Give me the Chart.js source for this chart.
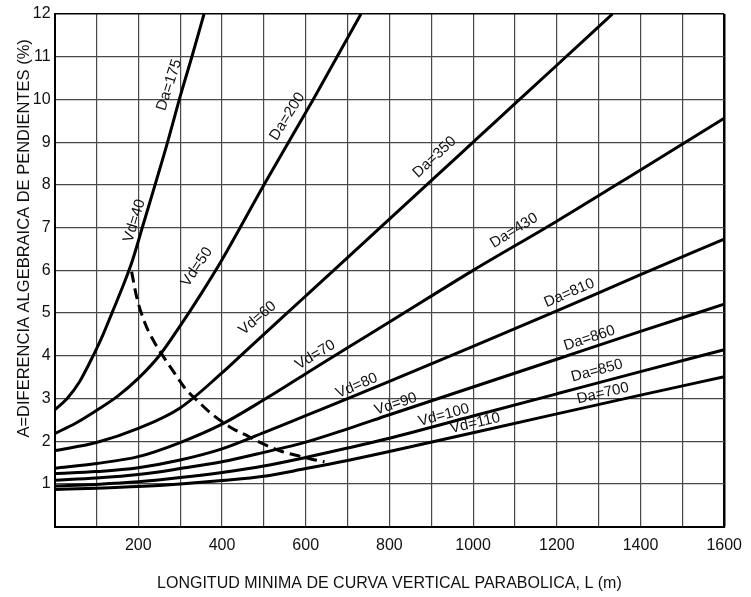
<!DOCTYPE html>
<html lang="es">
<head>
<meta charset="utf-8">
<title>Longitud mínima de curva vertical parabólica</title>
<script src="https://cdn.jsdelivr.net/npm/chart.js@4.4.1/dist/chart.umd.min.js"></script>
<style>
  html, body { margin: 0; padding: 0; background: #fff; }
  #grafico { display: block; }
</style>
</head>
<body>
<canvas id="grafico" width="751" height="597"></canvas>
<script>
// Nombres de las curvas
const velocidades = ["Vd=40", "Vd=50", "Vd=60", "Vd=70", "Vd=80", "Vd=90", "Vd=100", "Vd=110"];
const distancias = ["Da=175", "Da=200", "Da=350", "Da=430", "Da=810", "Da=860", "Da=850", "Da=700"];

// Valores: L (m) y A (%)
const L40 = [0, 30, 60, 92, 115, 137, 160, 185, 211, 240, 270, 298, 328, 357];
const A40 = [2.73, 3.0, 3.4, 4.0, 4.48, 5.0, 5.55, 6.2, 7.05, 8.0, 9.0, 10.0, 11.0, 12.0];

const L50 = [0, 50, 100, 150, 200, 250, 300, 350, 400, 500, 618, 732];
const A50 = [2.18, 2.42, 2.72, 3.05, 3.47, 4.0, 4.7, 5.45, 6.25, 8.0, 10.0, 12.0];

const L60 = [0, 100, 200, 300, 400, 450, 550, 600, 700, 800, 900, 1000, 1100, 1200, 1333];
const A60 = [1.78, 1.97, 2.3, 2.78, 3.6, 4.05, 4.95, 5.4, 6.3, 7.2, 8.1, 9.0, 9.9, 10.8, 12.0];

const Lcomun = [0, 100, 200, 300, 400, 500, 600, 700, 800, 1000, 1200, 1400, 1600];
const A70 = [1.37, 1.48, 1.64, 1.97, 2.4, 2.97, 3.58, 4.19, 4.79, 6.0, 7.15, 8.35, 9.56];
const A80 = [1.24, 1.29, 1.38, 1.56, 1.82, 2.2, 2.6, 3.0, 3.4, 4.22, 5.05, 5.9, 6.73];
const A90 = [1.09, 1.14, 1.22, 1.36, 1.52, 1.74, 1.98, 2.29, 2.62, 3.27, 3.92, 4.57, 5.21];
const A100 = [0.95, 0.99, 1.05, 1.15, 1.27, 1.42, 1.62, 1.84, 2.07, 2.59, 3.11, 3.63, 4.14];
const A110 = [0.87, 0.9, 0.94, 1.0, 1.08, 1.18, 1.36, 1.55, 1.76, 2.2, 2.64, 3.08, 3.51];

// Línea discontinua
const Llimite = [184, 196, 216, 240, 260, 287, 315, 339, 374, 425, 464, 487, 543, 582, 614, 645];
const Alimite = [5.97, 5.38, 4.76, 4.29, 3.98, 3.59, 3.2, 2.97, 2.65, 2.3, 2.11, 1.99, 1.76, 1.66, 1.58, 1.52];

// Etiquetas de los ejes
const ticksX = [200, 400, 600, 800, 1000, 1200, 1400, 1600];
const ticksY = [1, 2, 3, 4, 5, 6, 7, 8, 9, 10, 11, 12];
const tituloX = "LONGITUD MINIMA DE CURVA VERTICAL PARABOLICA, L (m)";
const tituloY = "A=DIFERENCIA ALGEBRAICA DE PENDIENTES (%)";

// Posición de los textos sobre las curvas (en unidades del gráfico)
const etiquetas = [
  { texto: distancias[0], x: 274, y: 10.34, ang: -72 },
  { texto: velocidades[0], x: 191, y: 7.16, ang: -73 },
  { texto: distancias[1], x: 556, y: 9.6, ang: -58 },
  { texto: velocidades[1], x: 340, y: 6.08, ang: -56 },
  { texto: distancias[2], x: 908, y: 8.65, ang: -43 },
  { texto: velocidades[2], x: 485, y: 4.88, ang: -40 },
  { texto: distancias[3], x: 1098, y: 6.93, ang: -32 },
  { texto: velocidades[3], x: 623, y: 4.02, ang: -31 },
  { texto: distancias[4], x: 1230, y: 5.47, ang: -23 },
  { texto: velocidades[4], x: 722, y: 3.3, ang: -23 },
  { texto: distancias[5], x: 1278, y: 4.41, ang: -18 },
  { texto: velocidades[5], x: 815, y: 2.87, ang: -18 },
  { texto: distancias[6], x: 1296, y: 3.65, ang: -15 },
  { texto: velocidades[6], x: 930, y: 2.61, ang: -15 },
  { texto: distancias[7], x: 1310, y: 3.12, ang: -13 },
  { texto: velocidades[7], x: 1005, y: 2.42, ang: -13 }
];

const fuente = "'Liberation Sans', Arial, sans-serif";

// Arma los puntos {x, y} de una curva
function puntos(L, A) {
  return L.map((l, i) => ({ x: l, y: A[i] }));
}

const curvas = [
  puntos(L40, A40),
  puntos(L50, A50),
  puntos(L60, A60),
  puntos(Lcomun, A70),
  puntos(Lcomun, A80),
  puntos(Lcomun, A90),
  puntos(Lcomun, A100),
  puntos(Lcomun, A110)
];

const datasets = curvas.map((datos, i) => ({
  label: velocidades[i] + " / " + distancias[i],
  data: datos,
  borderColor: "#000",
  borderWidth: 3,
  pointRadius: 0,
  fill: false,
  cubicInterpolationMode: "monotone"
}));

datasets.push({
  label: "límite",
  data: puntos(Llimite, Alimite),
  borderColor: "#000",
  borderWidth: 3,
  borderDash: [11, 6],
  pointRadius: 0,
  fill: false,
  cubicInterpolationMode: "monotone"
});

// Textos de las curvas y título vertical
const textosPlugin = {
  id: "textos",
  afterDatasetsDraw(chart) {
    const { ctx, chartArea, scales: { x, y } } = chart;
    ctx.save();
    ctx.fillStyle = "#111";
    ctx.textAlign = "center";
    ctx.textBaseline = "middle";
    ctx.font = "15px " + fuente;
    etiquetas.forEach(e => {
      ctx.save();
      ctx.translate(x.getPixelForValue(e.x), y.getPixelForValue(e.y));
      ctx.rotate(e.ang * Math.PI / 180);
      ctx.fillText(e.texto, 0, 0);
      ctx.restore();
    });

    ctx.font = "16.5px " + fuente;
    ctx.translate(chartArea.left - 30, (chartArea.top + chartArea.bottom) / 2 - 32);
    ctx.rotate(-Math.PI / 2);
    ctx.fillText(tituloY, 0, 0);
    ctx.restore();
  }
};

new Chart(document.getElementById("grafico"), {
  type: "line",
  data: { datasets },
  options: {
    responsive: false,
    animation: false,
    devicePixelRatio: 1,
    layout: { padding: { left: 0, top: 14, right: 22, bottom: 0 } },
    plugins: {
      legend: { display: false },
      tooltip: { enabled: false }
    },
    scales: {
      x: {
        type: "linear",
        min: 0,
        max: 1600,
        afterFit: s => { s.height = 70.3; },
        ticks: {
          stepSize: 100,
          autoSkip: false,
          maxRotation: 0,
          padding: 9,
          color: "#111",
          font: { family: fuente, size: 16 },
          callback: v => ticksX.includes(v) ? v : ""
        },
        grid: {
          drawTicks: false,
          color: c => c.tick && c.tick.value === 1600 ? "#000" : "#484848",
          lineWidth: c => c.tick && c.tick.value === 1600 ? 2.5 : 1.2
        },
        border: { display: true, color: "#000", width: 2 },
        title: {
          display: true,
          text: tituloX,
          color: "#111",
          font: { family: fuente, size: 16 },
          padding: { top: 0, bottom: 4 }
        }
      },
      y: {
        min: 0,
        max: 12,
        afterFit: s => { s.width = 54.6; },
        ticks: {
          stepSize: 1,
          padding: 4,
          color: "#111",
          font: { family: fuente, size: 16 },
          callback: v => ticksY.includes(v) ? v : ""
        },
        grid: {
          drawTicks: false,
          color: c => c.tick && c.tick.value === 12 ? "#000" : "#484848",
          lineWidth: c => c.tick && c.tick.value === 12 ? 1.5 : 1.2
        },
        border: { display: true, color: "#000", width: 2 }
      }
    }
  },
  plugins: [textosPlugin]
});
</script>
</body>
</html>
